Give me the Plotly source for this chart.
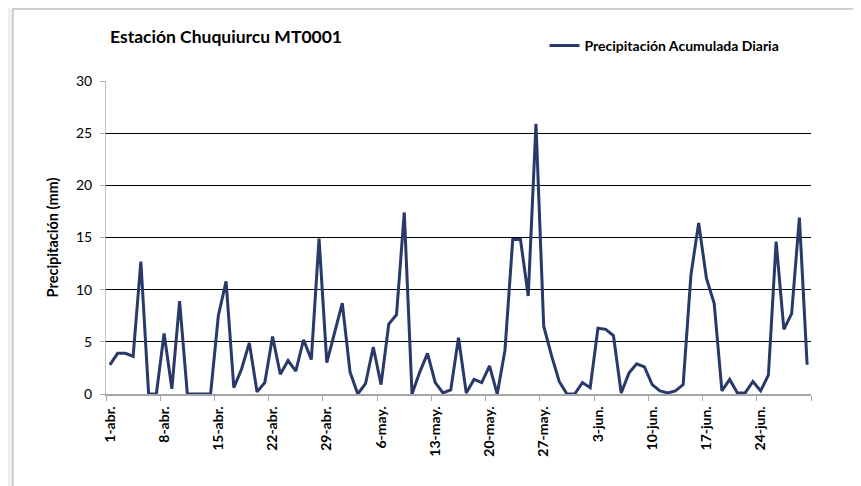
import pandas as pd
import plotly.graph_objects as go

# datos (mm por dia, 1-abr a 30-jun)
precip = [
    2.8, 3.9, 3.9, 3.6, 12.7, 0.0, 0.0, 5.8, 0.5, 8.9,
    0.0, 0.0, 0.0, 0.0, 7.5, 10.8, 0.6, 2.4, 4.9, 0.2,
    1.1, 5.5, 1.9, 3.2, 2.2, 5.2, 3.3, 14.9, 3.0, 5.8,
    8.7, 2.1, 0.0, 1.0, 4.5, 0.9, 6.7, 7.6, 17.4, 0.0,
    2.1, 3.9, 1.1, 0.1, 0.4, 5.4, 0.1, 1.4, 1.1, 2.7,
    0.0, 4.2, 14.8, 14.8, 9.4, 25.9, 6.5, 3.7, 1.2, 0.0,
    0.0, 1.1, 0.6, 6.3, 6.2, 5.6, 0.1, 2.0, 2.9, 2.6,
    0.9, 0.3, 0.1, 0.3, 0.9, 11.4, 16.4, 11.1, 8.7, 0.3,
    1.4, 0.1, 0.1, 1.2, 0.3, 1.8, 14.6, 6.2, 7.7, 16.9,
    2.8,
]
fechas = pd.date_range("2013-04-01", periods=len(precip), freq="D")

etiquetas_x = ["1-abr.", "8-abr.", "15-abr.", "22-abr.", "29-abr.", "6-may.",
               "13-may.", "20-may.", "27-may.", "3-jun.", "10-jun.", "17-jun.",
               "24-jun.", ""]
marcas_x = pd.date_range("2013-04-01", periods=len(etiquetas_x), freq="7D") - pd.Timedelta(hours=12)
marcas_y = [0, 5, 10, 15, 20, 25, 30]

titulo = "Estación Chuquiurcu MT0001"
serie = "Precipitación Acumulada Diaria"

FUENTE = "Lato, Open Sans, Arial"
AZUL = "#28396a"

fig = go.Figure()
fig.add_trace(go.Scatter(
    x=fechas, y=precip, mode="lines", name="<b>" + serie + "</b>",
    line=dict(color=AZUL, width=3),
))

# tarjeta blanca con borde gris sobre fondo gris
fig.add_shape(type="rect", xref="paper", yref="paper",
              x0=-0.132, x1=1.3, y0=-0.5, y1=1.230,
              fillcolor="white", line=dict(color="#a6a6a6", width=1),
              layer="below")

# la pagina deja 8px de margen alrededor de la figura
fig.update_layout(
    width=853, height=478,
    paper_bgcolor="#f0f0f0",
    plot_bgcolor="rgba(0,0,0,0)",
    margin=dict(l=98, r=50, t=73, b=92),
    font=dict(family=FUENTE, color="#000000", size=13),
    title=dict(text="<b>" + titulo + "</b>", x=0.1196, xanchor="left",
               y=0.939, yanchor="middle", font=dict(size=17.5)),
    showlegend=True,
    legend=dict(x=0.622, y=1.112, xanchor="left", yanchor="middle",
                bgcolor="rgba(0,0,0,0)", font=dict(size=14),
                itemwidth=30),
    xaxis=dict(
        type="date", automargin=False,
        range=["2013-03-31 12:00", "2013-06-30 12:00"],
        tickvals=marcas_x, ticktext=["<b>" + t + "</b>" if t else "" for t in etiquetas_x],
        tickangle=-90, ticklabelshift=4,
        ticks="outside", ticklen=5, tickcolor="#a6a6a6",
        showline=True, linecolor="#a6a6a6", linewidth=1.5,
        showgrid=False, zeroline=False,
        tickfont=dict(size=14),
    ),
    yaxis=dict(
        range=[0, 30], tickvals=marcas_y, automargin=False,
        ticks="outside", ticklen=5, tickcolor="#a6a6a6",
        ticklabelstandoff=5,
        showline=True, linecolor="#bfbfbf", linewidth=1,
        showgrid=True, gridcolor="#000000", gridwidth=1.3,
        zeroline=False,
        tickfont=dict(size=14),
        title=dict(text="<b>Precipitación (mm)</b>", standoff=13,
                   font=dict(size=14.5)),
    ),
)

fig.write_html("out.html")
